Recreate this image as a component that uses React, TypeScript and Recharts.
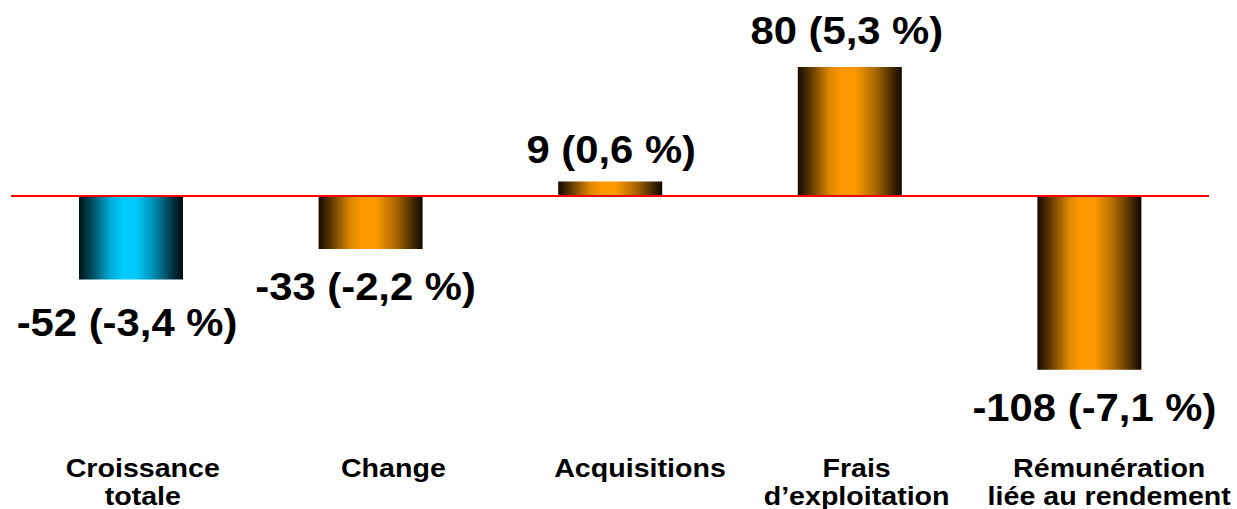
import { Bar, BarChart, Cell, LabelList, ReferenceLine, XAxis, YAxis } from "recharts";

const CATEGORIES = ["Croissance totale", "Change", "Acquisitions", "Frais d’exploitation", "Rémunération liée au rendement"];
const CATEGORY_LINES = [["Croissance", "totale"], ["Change"], ["Acquisitions"], ["Frais", "d’exploitation"], ["Rémunération", "liée au rendement"]];
const VALUES = [-52, -33, 9, 80, -108];
const PERCENTS = ["-3,4", "-2,2", "0,6", "5,3", "-7,1"];

// layout tweaks (px)
const TICK_DX = [12, 23, 30, 7, 20];
const LABEL_DX = [-4, -5, 1, -3, 5];
const LABEL_DY = [56, 51, -18, -23, 51];
const FILLS = ["url(#gradCyan)", "url(#gradOrange)", "url(#gradOrange)", "url(#gradOrange)", "url(#gradOrange)"];

const FONT = "'Liberation Sans', Arial, sans-serif";

const data = CATEGORIES.map((name, i) => ({ name, value: VALUES[i], pct: PERCENTS[i] }));

function CategoryTick(props: any) {
  const { x, y, index } = props;
  const lines = CATEGORY_LINES[index] || [];
  const cx = x + TICK_DX[index];
  return (
    <g>
      {lines.map((line, k) => (
        <text
          key={k}
          transform={`translate(${cx},${y + 104 + k * 28}) scale(1.1,1)`}
          textAnchor="middle"
          fontFamily={FONT}
          fontWeight="bold"
          fontSize={26}
          fill="#000"
        >
          {line}
        </text>
      ))}
    </g>
  );
}

function ValueLabel(props: any) {
  const { x, y, width, height, index } = props;
  const v = VALUES[index];
  const top = Math.min(y, y + height);
  const bottom = Math.max(y, y + height);
  const cx = x + width / 2 + LABEL_DX[index];
  const by = (v < 0 ? bottom : top) + LABEL_DY[index];
  return (
    <text
      transform={`translate(${cx},${by}) scale(1.1,1)`}
      textAnchor="middle"
      fontFamily={FONT}
      fontWeight="bold"
      fontSize={38}
      fill="#000"
    >
      {`${v} (${PERCENTS[index]} %)`}
    </text>
  );
}

function Stops({ dark, mid, bright }: { dark: string[]; mid: string; bright: string }) {
  return (
    <>
      <stop offset="0" stopColor={dark[0]} />
      <stop offset="0.12" stopColor={dark[1]} />
      <stop offset="0.3" stopColor={mid} />
      <stop offset="0.42" stopColor={bright} />
      <stop offset="0.55" stopColor={bright} />
      <stop offset="0.75" stopColor={dark[2]} />
      <stop offset="0.92" stopColor={dark[3]} />
      <stop offset="1" stopColor={dark[4]} />
    </>
  );
}

export default function App() {
  return (
    <div style={{ position: "absolute", left: 0, top: 0, width: 1237, height: 509, background: "#fff" }}>
      <BarChart width={1237} height={509} data={data} margin={{ top: 51, right: 28, left: 11, bottom: 0 }}>
        <defs>
          <linearGradient id="gradOrange" x1="0" y1="0" x2="1" y2="0">
            <Stops dark={["#120a00", "#5e3800", "#a86500", "#3e2500", "#0e0800"]} mid="#dc8500" bright="#ff9900" />
          </linearGradient>
          <linearGradient id="gradCyan" x1="0" y1="0" x2="1" y2="0">
            <Stops dark={["#001318", "#004a5e", "#00809f", "#002a36", "#000b0e"]} mid="#00aad6" bright="#00ccff" />
          </linearGradient>
        </defs>
        <XAxis
          dataKey="name"
          height={136}
          axisLine={false}
          tickLine={false}
          tickSize={0}
          tickMargin={0}
          interval={0}
          tick={<CategoryTick />}
        />
        <YAxis hide domain={[-110, 90]} />
        <Bar dataKey="value" barSize={104} isAnimationActive={false}>
          {data.map((d, i) => (
            <Cell key={d.name} fill={FILLS[i]} />
          ))}
          <LabelList dataKey="value" content={<ValueLabel />} />
        </Bar>
        <ReferenceLine y={0} stroke="#ff0000" strokeWidth={2} />
      </BarChart>
    </div>
  );
}
